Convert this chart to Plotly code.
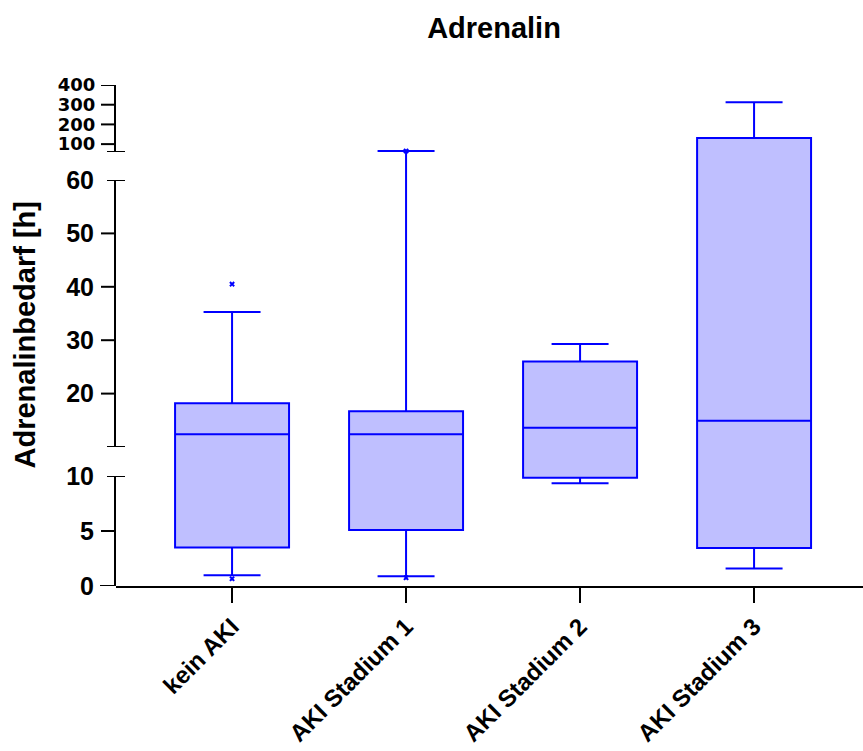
import plotly.graph_objects as go

# ---------------- data ----------------
categories = ["kein AKI", "AKI Stadium 1", "AKI Stadium 2", "AKI Stadium 3"]
lower_whisker = [0.97, 0.88, 9.35, 1.6]
q1_values = [3.5, 5.1, 9.85, 3.45]
median_values = [12.4, 12.4, 13.6, 14.9]
q3_values = [18.2, 16.7, 26.0, 131.0]
upper_whisker = [35.3, 65.0, 29.3, 312.0]
outlier_cat = [0, 0, 1, 1]
outlier_val = [40.5, 0.66, 65.0, 0.75]

# tick labels of the three axis segments
ticks_bottom = [0, 5, 10]
ticks_middle = [20, 30, 40, 50, 60]
ticks_top = [100, 200, 300, 400]

# ---------------- segmented (broken) y axis ----------------
PLOT_H = 501.0  # plot height in px
seg_ranges = [(0, 10), (10, 60), (60, 400)]
seg_domains = [(0.0, 110 / PLOT_H), (139 / PLOT_H, 406 / PLOT_H), (434 / PLOT_H, 1.0)]


def to_disp(v):
    for i, ((lo, hi), (d0, d1)) in enumerate(zip(seg_ranges, seg_domains)):
        if v <= hi or i == len(seg_ranges) - 1:
            return d0 + (v - lo) / (hi - lo) * (d1 - d0)


BLUE = "#0000FF"
FONT = "Liberation Sans, Arial, Helvetica, sans-serif"

fig = go.Figure()

for i, cat in enumerate(categories):
    fig.add_trace(go.Box(
        x=[i],
        q1=[to_disp(q1_values[i])],
        median=[to_disp(median_values[i])],
        q3=[to_disp(q3_values[i])],
        lowerfence=[to_disp(lower_whisker[i])],
        upperfence=[to_disp(upper_whisker[i])],
        width=0.655,
        whiskerwidth=0.5,
        boxpoints=False,
        line=dict(color=BLUE, width=2),
        fillcolor="rgba(0,0,255,0.25)",
        name=cat,
        showlegend=False,
        hoverinfo="skip",
    ))

fig.add_trace(go.Scatter(
    x=outlier_cat,
    y=[to_disp(v) for v in outlier_val],
    mode="markers",
    marker=dict(symbol="x", size=5, color=BLUE, line=dict(width=0)),
    showlegend=False,
    hoverinfo="skip",
))

# dummy traces so the segment axes are drawn
for ax in ["y2", "y3", "y4"]:
    fig.add_trace(go.Scatter(x=[None], y=[None], yaxis=ax, xaxis="x",
                             showlegend=False, hoverinfo="skip"))

tick_font = dict(family=FONT, size=25, color="black", weight="bold")
tick_font_top = dict(family="DejaVu Sans, sans-serif", size=18, color="black", weight="bold")


def seg_axis(rng, dom, vals, font):
    return dict(
        range=list(rng), domain=list(dom), anchor="x", automargin=False,
        tickmode="array", tickvals=vals, ticktext=[str(v) for v in vals],
        ticks="outside", ticklen=15, tickcolor="rgba(0,0,0,0)", tickwidth=2,
        showline=True, linecolor="black", linewidth=2,
        showgrid=False, zeroline=False, tickfont=font,
    )


layout_axes = dict(
    yaxis=dict(range=[0, 1], domain=[0, 1], visible=False, showgrid=False,
               zeroline=False, fixedrange=True, automargin=False),
    yaxis2=seg_axis(seg_ranges[0], seg_domains[0], ticks_bottom, tick_font),
    yaxis3=seg_axis(seg_ranges[1], seg_domains[1], ticks_middle, tick_font),
    yaxis4=seg_axis(seg_ranges[2], seg_domains[2], ticks_top, tick_font_top),
)

# tick marks (normal ticks point left, segment-end caps cross the axis)
shapes = []
seg_ticks = [("y2", ticks_bottom, [10]), ("y3", [10] + ticks_middle, [10, 60]),
             ("y4", [60] + ticks_top, [60])]
for yref, vals, caps in seg_ticks:
    for v in vals:
        x0, x1 = (-9, 9) if v in caps else (-15, 0)
        if yref == "y2" and v == 0:
            x0 = -16
        shapes.append(dict(type="line", xref="paper", xsizemode="pixel", xanchor=0,
                           x0=x0, x1=x1, yref=yref, y0=v, y1=v,
                           line=dict(color="black", width=2)))

fig.update_layout(
    width=863, height=751,
    margin=dict(l=116, r=0, t=85, b=165, pad=0, autoexpand=False),
    paper_bgcolor="white", plot_bgcolor="rgba(0,0,0,0)",
    title=dict(text="Adrenalin", x=494 / 863, xanchor="center", y=1 - 28 / 751,
               yanchor="middle", font=dict(family=FONT, size=29, color="black", weight="bold")),
    xaxis=dict(
        range=[-0.667, 3.626], anchor="y", domain=[0, 1], automargin=False,
        tickmode="array", tickvals=list(range(len(categories))), ticktext=categories,
        ticks="outside", ticklen=15, tickwidth=2, tickcolor="black",
        showline=True, linecolor="black", linewidth=2,
        showgrid=False, zeroline=False, tickangle=-45,
        tickfont=dict(family=FONT, size=24, color="black", weight="bold"),
    ),
    shapes=shapes,
    annotations=[dict(text="Adrenalinbedarf [h]", xref="paper", yref="paper",
                      x=(24 - 116) / 747, y=0.5, xanchor="center", yanchor="middle",
                      textangle=-90, showarrow=False,
                      font=dict(family=FONT, size=29, color="black", weight="bold"))],
    **layout_axes,
)

fig.write_html("out.html")
